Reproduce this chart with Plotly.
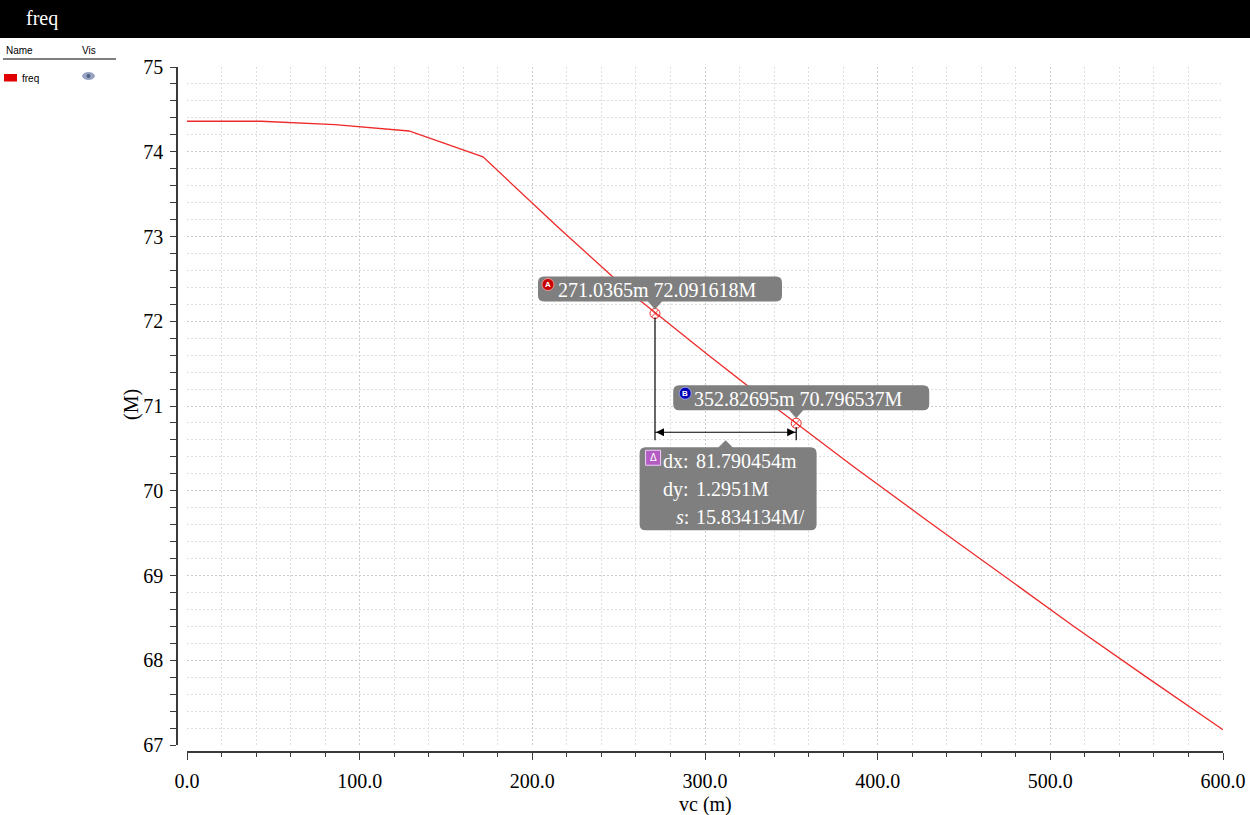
import plotly.graph_objects as go

# ---- data -------------------------------------------------------------
vc_m = [0.0, 42.857, 85.714, 128.571, 171.429, 214.286, 257.143, 300.0,
        342.857, 385.714, 428.571, 471.429, 514.286, 557.143, 600.0]
freq_M = [74.36, 74.36, 74.32, 74.245, 73.94, 73.12, 72.33, 71.63,
          70.95, 70.29, 69.65, 69.02, 68.39, 67.78, 67.18]

marker_a = (271.0365, 72.091618)
marker_b = (352.82695, 70.796537)
delta_text = ["dx: 81.790454m", "dy: 1.2951M", "s: 15.834134M/"]

x_ticks = [0, 100, 200, 300, 400, 500, 600]
x_tick_text = ["0.0", "100.0", "200.0", "300.0", "400.0", "500.0", "600.0"]
y_ticks = [67, 68, 69, 70, 71, 72, 73, 74, 75]

# ---- geometry helpers -------------------------------------------------
W, H = 1250, 815
ML, MR, MT, MB = 177, 27, 67, 63
PW, PH = W - ML - MR, H - MT - MB
PLOT_X0, PLOT_X1 = 187, 1223
PLOT_Y0, PLOT_Y1 = 745, 67
XR, YR = (0, 600), (67, 75)


def px_x(px):
    return (px - ML) / PW


def px_y(py):
    return (MT + PH - py) / PH


def data_px_x(x):
    return PLOT_X0 + (x - XR[0]) * (PLOT_X1 - PLOT_X0) / (XR[1] - XR[0])


def data_px_y(y):
    return PLOT_Y0 - (y - YR[0]) * (PLOT_Y0 - PLOT_Y1) / (YR[1] - YR[0])


def path_px(points, close=True):
    parts = []
    for cmd, pts in points:
        coords = " ".join(f"{px_x(a):.5f},{px_y(b):.5f}" for a, b in pts)
        parts.append(f"{cmd} {coords}")
    return " ".join(parts) + (" Z" if close else "")


def bubble(x0, y0, x1, y1, r, tip_x, tip_side):
    """Rounded box with a small pointer on the top or bottom edge."""
    pts = [("M", [(x0 + r, y0)])]
    if tip_side == "top":
        pts += [("L", [(tip_x - 7, y0)]), ("L", [(tip_x, y0 - 7)]), ("L", [(tip_x + 7, y0)])]
    pts += [("L", [(x1 - r, y0)]), ("Q", [(x1, y0), (x1, y0 + r)]),
            ("L", [(x1, y1 - r)]), ("Q", [(x1, y1), (x1 - r, y1)])]
    if tip_side == "bottom":
        pts += [("L", [(tip_x + 7, y1)]), ("L", [(tip_x, y1 + 8)]), ("L", [(tip_x - 7, y1)])]
    pts += [("L", [(x0 + r, y1)]), ("Q", [(x0, y1), (x0, y1 - r)]),
            ("L", [(x0, y0 + r)]), ("Q", [(x0, y0), (x0 + r, y0)])]
    return path_px(pts)


def label(text, x, y, size, color, family, xanchor="center", **kw):
    return dict(text=text, xref="paper", yref="paper", x=px_x(x), y=px_y(y),
                xanchor=xanchor, yanchor="middle", showarrow=False,
                font=dict(family=family, size=size, color=color), **kw)


SERIF = "Liberation Serif"
SANS = "Liberation Sans"
BOX = "#7f7f7f"

fig = go.Figure()

fig.add_trace(go.Scatter(x=vc_m, y=freq_M, mode="lines",
                         line=dict(color="#ee2a2a", width=1.3),
                         hoverinfo="skip", showlegend=False))
fig.add_trace(go.Scatter(x=[marker_a[0], marker_b[0]], y=[marker_a[1], marker_b[1]],
                         mode="markers",
                         marker=dict(symbol="circle-x-open", size=10,
                                     color="#ee2a2a", line=dict(width=1)),
                         hoverinfo="skip", showlegend=False))

shapes = []
annotations = []

# title bar
shapes.append(dict(type="rect", xref="paper", yref="paper",
                   x0=px_x(0), x1=px_x(W), y0=px_y(38), y1=px_y(0),
                   fillcolor="black", line=dict(width=0), layer="above"))
annotations.append(label("freq", 24, 19, 20, "white", SERIF, xanchor="left"))

# trace list panel on the left
annotations.append(label("Name", 4, 50, 10, "black", SANS, xanchor="left"))
annotations.append(label("Vis", 80, 50, 10, "black", SANS, xanchor="left"))
annotations.append(label("freq", 20, 78, 10, "black", SANS, xanchor="left"))
shapes.append(dict(type="line", xref="paper", yref="paper",
                   x0=px_x(3), x1=px_x(116), y0=px_y(59), y1=px_y(59),
                   line=dict(color="black", width=1)))
shapes.append(dict(type="rect", xref="paper", yref="paper",
                   x0=px_x(4), x1=px_x(17), y0=px_y(81.5), y1=px_y(74),
                   fillcolor="#e00000", line=dict(width=0)))
shapes.append(dict(type="circle", xref="paper", yref="paper",
                   x0=px_x(82.5), x1=px_x(94.5), y0=px_y(79.5), y1=px_y(72.5),
                   fillcolor="#9aa6c4", line=dict(color="#6f7ea3", width=0.6)))
shapes.append(dict(type="circle", xref="paper", yref="paper",
                   x0=px_x(86.5), x1=px_x(90.5), y0=px_y(78), y1=px_y(74),
                   fillcolor="#4e5f86", line=dict(width=0)))

# marker positions in pixels
ax, ay = data_px_x(marker_a[0]), data_px_y(marker_a[1])
bx, by = data_px_x(marker_b[0]), data_px_y(marker_b[1])
dim_y = by + 9
leg_bottom = by + 17

# delta dimension lines
for x_leg, y_top in ((ax, ay + 4), (bx, by + 4)):
    shapes.append(dict(type="line", xref="paper", yref="paper",
                       x0=px_x(x_leg), x1=px_x(x_leg), y0=px_y(y_top), y1=px_y(leg_bottom),
                       line=dict(color="black", width=1.2)))
shapes.append(dict(type="line", xref="paper", yref="paper",
                   x0=px_x(ax), x1=px_x(bx), y0=px_y(dim_y), y1=px_y(dim_y),
                   line=dict(color="black", width=1.2)))
shapes.append(dict(type="path", xref="paper", yref="paper",
                   path=path_px([("M", [(ax + 1, dim_y)]), ("L", [(ax + 9, dim_y - 4)]),
                                 ("L", [(ax + 9, dim_y + 4)])]),
                   fillcolor="black", line=dict(width=0)))
shapes.append(dict(type="path", xref="paper", yref="paper",
                   path=path_px([("M", [(bx - 1, dim_y)]), ("L", [(bx - 9, dim_y - 4)]),
                                 ("L", [(bx - 9, dim_y + 4)])]),
                   fillcolor="black", line=dict(width=0)))

# marker A bubble
a_box = (ax - 117, ay - 37, ax + 127, ay - 12)
shapes.append(dict(type="path", xref="paper", yref="paper",
                   path=bubble(*a_box, 6, ax, "bottom"),
                   fillcolor=BOX, line=dict(width=0), layer="above"))
shapes.append(dict(type="circle", xref="paper", yref="paper",
                   x0=px_x(a_box[0] + 4), x1=px_x(a_box[0] + 16),
                   y0=px_y(a_box[1] + 14), y1=px_y(a_box[1] + 2),
                   fillcolor="#c80000", line=dict(color="#ffaaaa", width=0.8)))
annotations.append(label("<b>A</b>", a_box[0] + 10, a_box[1] + 8, 8, "white", SANS))
annotations.append(label(f"{marker_a[0]}m {marker_a[1]:.6f}M", a_box[0] + 18,
                         (a_box[1] + a_box[3]) / 2 + 1, 20, "white", SERIF, xanchor="left"))

# marker B bubble
b_box = (bx - 123, by - 38, bx + 133, by - 13)
shapes.append(dict(type="path", xref="paper", yref="paper",
                   path=bubble(*b_box, 6, bx, "bottom"),
                   fillcolor=BOX, line=dict(width=0), layer="above"))
shapes.append(dict(type="circle", xref="paper", yref="paper",
                   x0=px_x(b_box[0] + 6), x1=px_x(b_box[0] + 18),
                   y0=px_y(b_box[1] + 14), y1=px_y(b_box[1] + 2),
                   fillcolor="#0000b4", line=dict(color="#aab0ff", width=0.8)))
annotations.append(label("<b>B</b>", b_box[0] + 12, b_box[1] + 8, 8, "white", SANS))
annotations.append(label(f"{marker_b[0]}m {marker_b[1]:.6f}M", b_box[0] + 19,
                         (b_box[1] + b_box[3]) / 2 + 1, 20, "white", SERIF, xanchor="left"))

# delta bubble
mid_x = (ax + bx) / 2
d_box = (mid_x - 86, leg_bottom + 7, mid_x + 91, leg_bottom + 90)
shapes.append(dict(type="path", xref="paper", yref="paper",
                   path=bubble(*d_box, 6, mid_x, "top"),
                   fillcolor=BOX, line=dict(width=0), layer="above"))
shapes.append(dict(type="rect", xref="paper", yref="paper",
                   x0=px_x(d_box[0] + 6), x1=px_x(d_box[0] + 21),
                   y0=px_y(d_box[1] + 18), y1=px_y(d_box[1] + 3),
                   fillcolor="#b25cc4", line=dict(color="#f0d0f8", width=1)))
annotations.append(label("Δ", d_box[0] + 13.5, d_box[1] + 10.5, 10, "white", SANS))
colon_x = d_box[0] + 51
line_ys = [d_box[1] + 14, d_box[1] + 42, d_box[1] + 70]
prefixes = ["dx:", "dy:", "<i>s</i>:"]
for prefix, txt, yy in zip(prefixes, delta_text, line_ys):
    value = txt.split(": ", 1)[1]
    annotations.append(label(prefix, colon_x, yy, 20, "white", SERIF, xanchor="right"))
    annotations.append(label(value, colon_x + 3, yy, 20, "white", SERIF, xanchor="left"))

# axis titles
annotations.append(label("(M)", 131, 405, 20, "black", SERIF, textangle=-90))
annotations.append(label("vc (m)", 705, 804, 20, "black", SERIF))

axis_common = dict(
    showline=True, linecolor="#3a3a3a", linewidth=1.5, mirror=False,
    ticks="outside", tickcolor="#3a3a3a", tickwidth=1.2,
    showgrid=True, gridcolor="#cbcbcb", griddash="2px,2px", gridwidth=1,
    zeroline=False, anchor="free", position=0, automargin=False,
    tickfont=dict(family=SERIF, size=20, color="black"),
)

fig.update_layout(
    width=W, height=H,
    margin=dict(l=ML, r=MR, t=MT, b=MB, pad=0, autoexpand=False),
    paper_bgcolor="white", plot_bgcolor="white",
    showlegend=False,
    xaxis=dict(axis_common, domain=[(PLOT_X0 - ML) / PW, 1], range=list(XR),
               tickvals=x_ticks, ticktext=x_tick_text, ticklen=7, ticklabelstandoff=4,
               minor=dict(dtick=20, ticklen=4, tickcolor="#3a3a3a", ticks="outside",
                          showgrid=True, gridcolor="#dedede", griddash="2px,2px")),
    yaxis=dict(axis_common, domain=[(MT + PH - PLOT_Y0) / PH, 1], range=list(YR),
               tickvals=y_ticks, ticklen=6, ticklabelstandoff=3,
               minor=dict(dtick=0.2, ticklen=6, tickcolor="#3a3a3a", ticks="outside",
                          showgrid=True, gridcolor="#dedede", griddash="2px,2px")),
    shapes=shapes,
    annotations=annotations,
)

fig.write_html("out.html")
